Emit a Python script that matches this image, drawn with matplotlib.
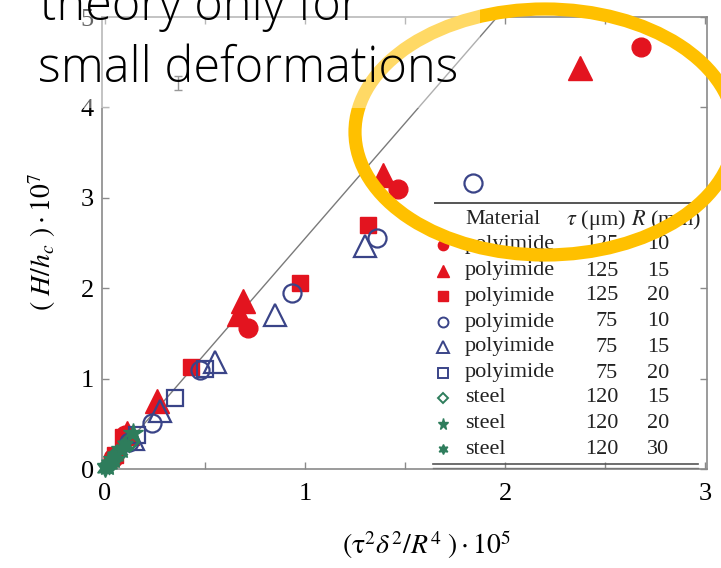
import matplotlib
matplotlib.use("Agg")
import matplotlib.pyplot as plt
from matplotlib.patches import Ellipse, Rectangle

# ---- data -------------------------------------------------------------
theory_x = [0.0, 2.0]
theory_y = [0.0, 5.1]

# polyimide, tau = 125 um
pi125_r10_x = [2.68, 1.465, 0.715, 0.10, 0.04]
pi125_r10_y = [4.67, 3.10, 1.56, 0.38, 0.12]
pi125_r15_x = [2.375, 1.39, 0.69, 0.67, 0.26, 0.11]
pi125_r15_y = [4.44, 3.25, 1.86, 1.72, 0.75, 0.40]
pi125_r20_x = [1.315, 0.975, 0.43, 0.09, 0.05]
pi125_r20_y = [2.70, 2.06, 1.13, 0.35, 0.16]
# polyimide, tau = 75 um
pi75_r10_x = [1.84, 1.36, 0.935, 0.475, 0.235, 0.12]
pi75_r10_y = [3.16, 2.55, 1.95, 1.10, 0.51, 0.30]
pi75_r15_x = [1.30, 0.85, 0.55, 0.275, 0.14]
pi75_r15_y = [2.47, 1.70, 1.18, 0.64, 0.33]
pi75_r20_x = [0.50, 0.35, 0.16]
pi75_r20_y = [1.11, 0.785, 0.38]
# steel, tau = 120 um
st_r15_x = [0.12, 0.06, 0.02]
st_r15_y = [0.30, 0.17, 0.06]
st_r20_x = [0.14, 0.08, 0.04, 0.01]
st_r20_y = [0.40, 0.22, 0.11, 0.03]
st_r30_x = [0.10, 0.05, 0.02, 0.0]
st_r30_y = [0.26, 0.14, 0.05, 0.01]

materials = ["polyimide"] * 6 + ["steel"] * 3
thickness = ["125", "125", "125", "75", "75", "75", "120", "120", "120"]
radius = ["10", "15", "20", "10", "15", "20", "15", "20", "30"]

x_ticks = [0, 1, 2, 3]
y_ticks = [0, 1, 2, 3, 4, 5]

# ---- styles -----------------------------------------------------------
RED = "#e3141f"
BLUE = "#3a4488"
GREEN = "#2e7d5c"
GOLD = "#ffc000"

styles = [
    dict(marker="o", ms=13.5, mfc=RED, mec=RED, mew=1.0),
    dict(marker="^", ms=17, mfc=RED, mec=RED, mew=1.0),
    dict(marker="s", ms=12, mfc=RED, mec=RED, mew=1.0),
    dict(marker="o", ms=13, mfc="none", mec=BLUE, mew=1.6),
    dict(marker="^", ms=16, mfc="none", mec=BLUE, mew=1.6),
    dict(marker="s", ms=12, mfc="none", mec=BLUE, mew=1.6),
    dict(marker="D", ms=9.5, mfc="none", mec=GREEN, mew=2.0),
    dict(marker="*", ms=15, mfc=GREEN, mec=GREEN, mew=1.0),
    dict(marker=(6, 1, 0), ms=13, mfc=GREEN, mec=GREEN, mew=1.0),
]
series = [
    (pi125_r10_x, pi125_r10_y), (pi125_r15_x, pi125_r15_y), (pi125_r20_x, pi125_r20_y),
    (pi75_r10_x, pi75_r10_y), (pi75_r15_x, pi75_r15_y), (pi75_r20_x, pi75_r20_y),
    (st_r15_x, st_r15_y), (st_r20_x, st_r20_y), (st_r30_x, st_r30_y),
]

plt.rcParams["font.family"] = ["Liberation Serif", "DejaVu Serif"]
plt.rcParams["mathtext.fontset"] = "stix"

W, H = 721, 568
fig = plt.figure(figsize=(W / 100, H / 100), dpi=100)


def fx(px):
    return px / W


def fy(py):
    return 1 - py / H


ax = fig.add_axes([fx(102), fy(469), fx(707) - fx(102), (469 - 17) / H])
ax.set_xlim(-0.015, 3.01)
ax.set_ylim(0, 5)

FRAME = "#8a8a8a"
for s in ax.spines.values():
    s.set_color(FRAME)
    s.set_linewidth(1.2)
ax.set_xticks(x_ticks)
ax.set_yticks(y_ticks)
ax.set_xticks([0.5, 1.5, 2.5], minor=True)
ax.tick_params(which="both", direction="in", top=True, right=True, color=FRAME,
               length=5, width=1.0, labelsize=19)
ax.tick_params(axis="x", pad=10)
ax.tick_params(axis="y", pad=6)

ax.plot(theory_x, theory_y, color="#7a7a7a", lw=1.0, zorder=2)

# typical error bar
ax.errorbar([0.365], [4.27], yerr=[0.08], fmt="none", ecolor="#555555",
            elinewidth=1.0, capsize=3, zorder=2)

for (xs, ys), st in zip(series, styles):
    ax.plot(xs, ys, ls="none", zorder=3, clip_on=False, **st)

ax.set_xlabel(r"$(\mathrm{\tau}^2\delta^2/R^4\ )\cdot 10^5$", fontsize=20)
ax.xaxis.set_label_coords(fx(427), fy(545), transform=fig.transFigure)
ax.xaxis.label.set_verticalalignment("center")
ax.set_ylabel(r"$(\ H/h_c\ )\cdot 10^7$", fontsize=20)
ax.yaxis.set_label_coords(fx(42), fy(242), transform=fig.transFigure)
ax.yaxis.label.set_verticalalignment("center")

# ---- legend table ----------------------------------------------------
fig.add_artist(plt.Line2D([fx(435), fx(698)], [fy(203), fy(203)], color="#555555", lw=1.4))
fig.add_artist(plt.Line2D([fx(433), fx(698)], [fy(464), fy(464)], color="#555555", lw=1.2))
fig.add_artist(plt.Line2D([fx(433), fx(698)], [fy(467.5), fy(467.5)], color="#777777", lw=1.0))

LS = 16
fig.text(fx(465), fy(220), "Material", fontsize=LS, va="center", ha="left", color="#222222")
fig.text(fx(596), fy(220), r"$\tau$ (μm)", fontsize=LS, va="center", ha="center", color="#222222")
fig.text(fx(666), fy(220), r"$R$ (mm)", fontsize=LS, va="center", ha="center", color="#222222")

row_y = [245, 271, 296, 322, 347, 373, 398, 424, 449]
for i, st in enumerate(styles):
    yy = fy(row_y[i])
    leg_st = dict(st)
    leg_st["ms"] = st["ms"] * 0.55
    leg_st["mew"] = min(st["mew"], 1.4)
    fig.add_artist(plt.Line2D([fx(443)], [yy], ls="none", **leg_st))
    fig.text(fx(465), yy, materials[i], fontsize=LS, va="center", ha="left", color="#222222")
    fig.text(fx(618), yy, thickness[i], fontsize=LS, va="center", ha="right", color="#222222")
    fig.text(fx(658), yy, radius[i], fontsize=LS, va="center", ha="center", color="#222222")

# ---- callout ---------------------------------------------------------
ell = Ellipse((fx(545), fy(132)), width=380 / W, height=246 / H,
              transform=fig.transFigure, fill=False, edgecolor=GOLD, lw=9.5, zorder=10)
fig.add_artist(ell)
veil = Rectangle((0, fy(108)), fx(480), 108 / H, transform=fig.transFigure,
                 facecolor="white", edgecolor="none", alpha=0.4, zorder=11)
fig.add_artist(veil)
fig.text(fx(40), fy(20), "theory only for", fontsize=35, family=["Open Sans", "DejaVu Sans"],
         weight="light", va="baseline", ha="left", color="black", zorder=12)
fig.text(fx(38), fy(82), "small deformations", fontsize=35, family=["Open Sans", "DejaVu Sans"],
         weight="light", va="baseline", ha="left", color="black", zorder=12)

fig.savefig("out.png", dpi=100)
